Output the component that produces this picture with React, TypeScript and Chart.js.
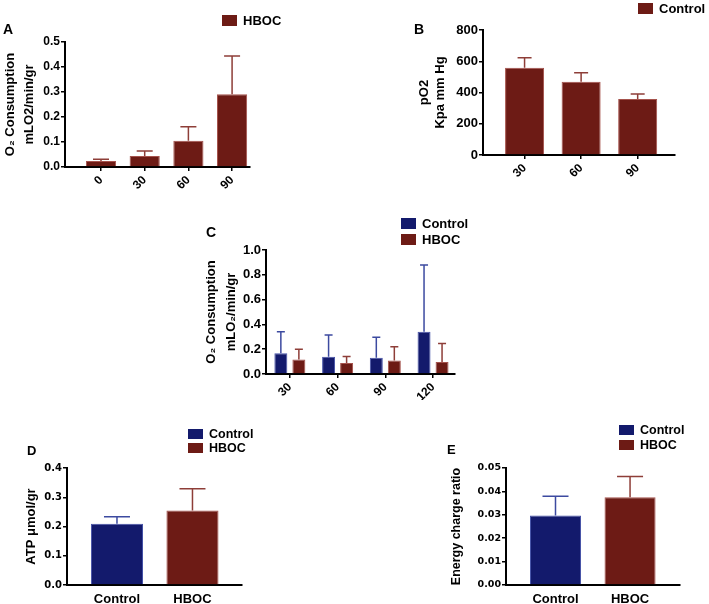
import React, { useEffect, useRef } from "react";
import { Chart, registerables } from "chart.js";

Chart.register(...registerables);

// ---------- Panel A: O2 consumption (HBOC) ----------
const aCategories = ["0", "30", "60", "90"];
const aHbocMean = [0.024, 0.044, 0.105, 0.291];
const aHbocUpper = [0.031, 0.064, 0.161, 0.444];
const aYTicks = [0, 0.1, 0.2, 0.3, 0.4, 0.5];

// ---------- Panel B: pO2 (Control) ----------
const bCategories = ["30", "60", "90"];
const bControlMean = [559, 469, 358];
const bControlUpper = [623, 527, 390];
const bYTicks = [0, 200, 400, 600, 800];

// ---------- Panel C: O2 consumption, Control vs HBOC ----------
const cCategories = ["30", "60", "90", "120"];
const cControlMean = [0.167, 0.14, 0.132, 0.341];
const cControlUpper = [0.341, 0.315, 0.296, 0.879];
const cHbocMean = [0.116, 0.089, 0.108, 0.097];
const cHbocUpper = [0.199, 0.142, 0.22, 0.245];
const cYTicks = [0, 0.2, 0.4, 0.6, 0.8, 1.0];

// ---------- Panel D: ATP ----------
const dCategories = ["Control", "HBOC"];
const dMean = [0.209, 0.255];
const dUpper = [0.233, 0.329];
const dYTicks = [0, 0.1, 0.2, 0.3, 0.4];

// ---------- Panel E: Energy charge ratio ----------
const eCategories = ["Control", "HBOC"];
const eMean = [0.0297, 0.0375];
const eUpper = [0.0379, 0.0464];
const eYTicks = [0, 0.01, 0.02, 0.03, 0.04, 0.05];

const FONT = "'Liberation Sans', Arial, Helvetica, sans-serif";
const FONT_WIDE = "'DejaVu Sans', 'Liberation Sans', sans-serif";

const RED = "#6d1b15";
const RED_EDGE = "#a5524c";
const RED_ERR = "#8e3e38";
const BLUE = "#131a6c";
const BLUE_EDGE = "#4552a8";
const BLUE_ERR = "#3c4aa0";

Chart.defaults.font.family = FONT;
Chart.defaults.font.weight = "bold";
Chart.defaults.color = "#000";

type Series = {
  label: string;
  means: number[];
  uppers: number[];
  fill: string | string[];
  edge: string | string[];
  err: string | string[];
};

type LegendItem = { text: string; color: string; x: number; y: number };

type PanelCfg = {
  canvas: { x: number; y: number; w: number; h: number };
  area: { l: number; t: number; r: number; b: number };
  categories: string[];
  series: Series[];
  xMin: number;
  xMax: number;
  yTicks: number[];
  decimals: number;
  title: string | string[];
  titleX: number;
  titleSize: number;
  titleLH: number;
  yTickFont: { family: string; size: number };
  xTickSize: number;
  xRotation: number;
  xTickMarks: boolean;
  xTickPad: number;
  catPct: number;
  barPct: number;
  capHalf: number;
  letter: string;
  letterX: number;
  letterY: number;
  letterSize: number;
  legend: LegendItem[];
  boxW: number;
  boxH: number;
  legendSize: number;
};

function errorBarsPlugin(capHalf: number) {
  return {
    id: "errorBars",
    afterDatasetsDraw(chart: any) {
      const ctx = chart.ctx;
      const yScale = chart.scales.y;
      chart.data.datasets.forEach((ds: any, di: number) => {
        const meta = chart.getDatasetMeta(di);
        meta.data.forEach((el: any, i: number) => {
          const up = ds.errUpper ? ds.errUpper[i] : undefined;
          if (up === undefined || up === null) return;
          const yTop = yScale.getPixelForValue(up);
          const color = Array.isArray(ds.errColor) ? ds.errColor[i] : ds.errColor;
          ctx.save();
          ctx.strokeStyle = color;
          ctx.lineWidth = 1.5;
          ctx.beginPath();
          ctx.moveTo(el.x, el.y);
          ctx.lineTo(el.x, yTop);
          ctx.moveTo(el.x - capHalf, yTop);
          ctx.lineTo(el.x + capHalf, yTop);
          ctx.stroke();
          ctx.restore();
        });
      });
    },
  };
}

function decorPlugin(c: PanelCfg) {
  return {
    id: "decor",
    afterDraw(chart: any) {
      const ctx = chart.ctx;
      const ox = c.canvas.x;
      const oy = c.canvas.y;
      ctx.save();
      ctx.fillStyle = "#000";
      ctx.textAlign = "left";
      ctx.textBaseline = "middle";
      ctx.font = `bold ${c.letterSize}px ${FONT}`;
      ctx.fillText(c.letter, c.letterX - ox, c.letterY - oy);
      c.legend.forEach((it) => {
        ctx.fillStyle = it.color;
        ctx.fillRect(it.x - ox, it.y - oy, c.boxW, c.boxH);
        ctx.fillStyle = "#000";
        ctx.font = `bold ${c.legendSize}px ${FONT}`;
        ctx.fillText(it.text, it.x - ox + c.boxW + 6, it.y - oy + c.boxH / 2 + 0.5);
      });
      ctx.restore();
    },
  };
}

function Panel({ cfg }: { cfg: PanelCfg }) {
  const ref = useRef<HTMLCanvasElement | null>(null);
  useEffect(() => {
    const c = cfg;
    const padLeft = c.titleX - c.titleLH / 2 - c.canvas.x;
    const yWidth = c.area.l - c.canvas.x - padLeft;
    const padTop = c.area.t - c.canvas.y;
    const padRight = c.canvas.x + c.canvas.w - c.area.r;
    const xHeight = c.canvas.y + c.canvas.h - c.area.b;
    const chart = new Chart(ref.current as HTMLCanvasElement, {
      type: "bar",
      data: {
        datasets: c.series.map((s) => ({
          label: s.label,
          data: s.means.map((v, i) => ({ x: i, y: v })),
          backgroundColor: s.fill,
          borderColor: s.edge,
          borderWidth: 1,
          borderSkipped: "start",
          categoryPercentage: c.catPct,
          barPercentage: c.barPct,
          errUpper: s.uppers,
          errColor: s.err,
        })) as any,
      },
      options: {
        responsive: false,
        maintainAspectRatio: false,
        animation: false,
        events: [],
        layout: { padding: { left: padLeft, top: padTop, right: padRight, bottom: 0 } },
        plugins: { legend: { display: false }, tooltip: { enabled: false } },
        scales: {
          x: {
            type: "linear",
            min: c.xMin,
            max: c.xMax,
            offset: false,
            bounds: "data",
            afterBuildTicks: (s: any) => {
              s.ticks = c.categories.map((_, i) => ({ value: i }));
            },
            afterFit: (s: any) => {
              s.height = xHeight;
            },
            grid: {
              display: c.xTickMarks,
              offset: false,
              drawOnChartArea: false,
              drawTicks: true,
              tickLength: 4,
              color: "#000",
              lineWidth: 1.5,
            },
            border: { display: true, color: "#000", width: 2 },
            ticks: {
              autoSkip: false,
              minRotation: c.xRotation,
              maxRotation: c.xRotation,
              padding: c.xTickPad,
              font: { family: FONT, size: c.xTickSize, weight: "bold" },
              color: "#000",
              callback: (v: any) => {
                const idx = Math.round(Number(v));
                return c.categories[idx] ?? "";
              },
            },
          },
          y: {
            type: "linear",
            min: c.yTicks[0],
            max: c.yTicks[c.yTicks.length - 1],
            afterBuildTicks: (s: any) => {
              s.ticks = c.yTicks.map((v) => ({ value: v }));
            },
            afterFit: (s: any) => {
              s.width = yWidth;
            },
            grid: {
              display: true,
              drawOnChartArea: false,
              drawTicks: true,
              tickLength: 4,
              color: "#000",
              lineWidth: 1.5,
            },
            border: { display: true, color: "#000", width: 2 },
            ticks: {
              padding: 1,
              font: { family: c.yTickFont.family, size: c.yTickFont.size, weight: "bold" },
              color: "#000",
              callback: (v: any) => Number(v).toFixed(c.decimals),
            },
            title: {
              display: true,
              text: c.title,
              color: "#000",
              padding: 0,
              font: { family: FONT, size: c.titleSize, weight: "bold", lineHeight: `${c.titleLH}px` },
            },
          },
        },
      } as any,
      plugins: [errorBarsPlugin(c.capHalf), decorPlugin(c)],
    });
    return () => chart.destroy();
  }, [cfg]);
  return (
    <canvas
      ref={ref}
      width={cfg.canvas.w}
      height={cfg.canvas.h}
      style={{
        position: "absolute",
        left: cfg.canvas.x,
        top: cfg.canvas.y,
        width: cfg.canvas.w,
        height: cfg.canvas.h,
      }}
    />
  );
}

const panelA: PanelCfg = {
  canvas: { x: 0, y: 0, w: 300, h: 200 },
  area: { l: 65, t: 42, r: 250, b: 167 },
  categories: aCategories,
  series: [{ label: "HBOC", means: aHbocMean, uppers: aHbocUpper, fill: RED, edge: RED_EDGE, err: RED_ERR }],
  xMin: -0.824,
  xMax: 3.41,
  yTicks: aYTicks,
  decimals: 1,
  title: ["O₂ Consumption", "mLO2/min/gr"],
  titleX: 10,
  titleSize: 13,
  titleLH: 19,
  yTickFont: { family: FONT, size: 12 },
  xTickSize: 12,
  xRotation: 45,
  xTickMarks: true,
  xTickPad: 2,
  catPct: 1,
  barPct: 0.69,
  capHalf: 8,
  letter: "A",
  letterX: 3,
  letterY: 30,
  letterSize: 14,
  legend: [{ text: "HBOC", color: RED, x: 222, y: 15 }],
  boxW: 15,
  boxH: 11,
  legendSize: 13,
};

const panelB: PanelCfg = {
  canvas: { x: 395, y: 0, w: 314, h: 200 },
  area: { l: 483, t: 30, r: 675, b: 155 },
  categories: bCategories,
  series: [{ label: "Control", means: bControlMean, uppers: bControlUpper, fill: RED, edge: RED_EDGE, err: RED_ERR }],
  xMin: -0.735,
  xMax: 2.66,
  yTicks: bYTicks,
  decimals: 0,
  title: ["pO2", "Kpa mm Hg"],
  titleX: 424,
  titleSize: 13,
  titleLH: 16,
  yTickFont: { family: FONT, size: 13 },
  xTickSize: 12,
  xRotation: 45,
  xTickMarks: true,
  xTickPad: 2,
  catPct: 1,
  barPct: 0.69,
  capHalf: 7,
  letter: "B",
  letterX: 414,
  letterY: 30,
  letterSize: 14,
  legend: [{ text: "Control", color: RED, x: 638, y: 3 }],
  boxW: 15,
  boxH: 11,
  legendSize: 13,
};

const panelC: PanelCfg = {
  canvas: { x: 195, y: 200, w: 300, h: 200 },
  area: { l: 266, t: 250, r: 455, b: 374 },
  categories: cCategories,
  series: [
    { label: "Control", means: cControlMean, uppers: cControlUpper, fill: BLUE, edge: BLUE_EDGE, err: BLUE_ERR },
    { label: "HBOC", means: cHbocMean, uppers: cHbocUpper, fill: RED, edge: RED_EDGE, err: RED_ERR },
  ],
  xMin: -0.5,
  xMax: 3.46,
  yTicks: cYTicks,
  decimals: 1,
  title: ["O₂ Consumption", "mLO₂/min/gr"],
  titleX: 211,
  titleSize: 13,
  titleLH: 20,
  yTickFont: { family: FONT, size: 13 },
  xTickSize: 12,
  xRotation: 45,
  xTickMarks: true,
  xTickPad: 2,
  catPct: 0.755,
  barPct: 0.72,
  capHalf: 4,
  letter: "C",
  letterX: 206,
  letterY: 233,
  letterSize: 14,
  legend: [
    { text: "Control", color: BLUE, x: 401, y: 218 },
    { text: "HBOC", color: RED, x: 401, y: 234 },
  ],
  boxW: 15,
  boxH: 11,
  legendSize: 13,
};

const panelD: PanelCfg = {
  canvas: { x: 0, y: 400, w: 270, h: 204 },
  area: { l: 67, t: 468, r: 242, b: 585 },
  categories: dCategories,
  series: [
    { label: "ATP", means: dMean, uppers: dUpper, fill: [BLUE, RED], edge: [BLUE_EDGE, RED_EDGE], err: [BLUE_ERR, RED_ERR] },
  ],
  xMin: -0.662,
  xMax: 1.656,
  yTicks: dYTicks,
  decimals: 1,
  title: "ATP μmol/gr",
  titleX: 31,
  titleSize: 13,
  titleLH: 15.6,
  yTickFont: { family: FONT_WIDE, size: 10 },
  xTickSize: 13,
  xRotation: 0,
  xTickMarks: false,
  xTickPad: 3,
  catPct: 1,
  barPct: 0.69,
  capHalf: 13,
  letter: "D",
  letterX: 27,
  letterY: 451,
  letterSize: 13,
  legend: [
    { text: "Control", color: BLUE, x: 188, y: 429 },
    { text: "HBOC", color: RED, x: 188, y: 443 },
  ],
  boxW: 15,
  boxH: 10,
  legendSize: 12.5,
};

const panelE: PanelCfg = {
  canvas: { x: 420, y: 400, w: 289, h: 204 },
  area: { l: 506, t: 468, r: 680, b: 585 },
  categories: eCategories,
  series: [
    { label: "Energy charge", means: eMean, uppers: eUpper, fill: [BLUE, RED], edge: [BLUE_EDGE, RED_EDGE], err: [BLUE_ERR, RED_ERR] },
  ],
  xMin: -0.664,
  xMax: 1.67,
  yTicks: eYTicks,
  decimals: 2,
  title: "Energy charge ratio",
  titleX: 457,
  titleSize: 12.5,
  titleLH: 15,
  yTickFont: { family: FONT_WIDE, size: 9.5 },
  xTickSize: 13,
  xRotation: 0,
  xTickMarks: false,
  xTickPad: 3,
  catPct: 1,
  barPct: 0.685,
  capHalf: 13,
  letter: "E",
  letterX: 447,
  letterY: 450,
  letterSize: 13,
  legend: [
    { text: "Control", color: BLUE, x: 619, y: 425 },
    { text: "HBOC", color: RED, x: 619, y: 440 },
  ],
  boxW: 15,
  boxH: 10,
  legendSize: 12.5,
};

const panels = [panelA, panelB, panelC, panelD, panelE];

export default function App() {
  return (
    <div
      style={{
        position: "fixed",
        left: 0,
        top: 0,
        width: 709,
        height: 604,
        background: "#fff",
        overflow: "hidden",
      }}
    >
      {panels.map((p, i) => (
        <Panel key={i} cfg={p} />
      ))}
    </div>
  );
}
